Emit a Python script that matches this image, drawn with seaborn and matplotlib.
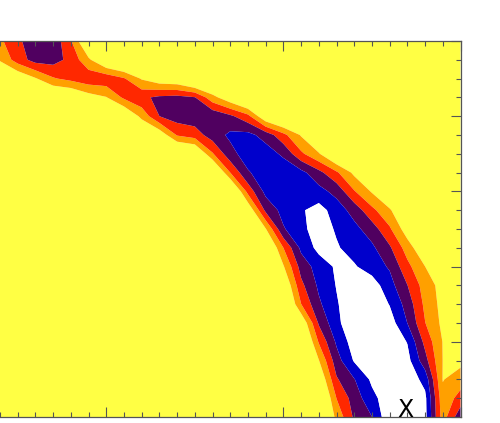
import numpy as np
import matplotlib
matplotlib.use("Agg")
import matplotlib.pyplot as plt
from matplotlib.ticker import MultipleLocator
import seaborn as sns

x_coords = [round(-0.6 + 0.1 * i, 2) for i in range(27)]      # -0.6 ... 2.0
y_coords = [round(0.25 * j, 2) for j in range(21)]             # 0.0 ... 5.0

N = -1.5  # far background level
z_y5_00 = [1.3, 2.3, 3.1, 3.2, 1.6, -1.0, N, N, N, N, N, N, N, N, N, N, N, N, N, N, N, N, N, N, N, N, N]
z_y4_75 = [0.6, 2.0, 2.9, 2.9, 2.2, 0.7, -0.8, N, N, N, N, N, N, N, N, N, N, N, N, N, N, N, N, N, N, N, N]
z_y4_50 = [-0.8, -0.5, 0.4, 1.4, 1.8, 2.2, 2.2, 1.6, 0.4, -0.3, -0.5, N, N, N, N, N, N, N, N, N, N, N, N, N, N, N, N]
z_y4_25 = [N, N, -1.0, -1.0, -0.8, 0.0, 0.45, 1.7, 2.3, 2.7, 2.8, 2.55, 0.85, -0.3, N, N, N, N, N, N, N, N, N, N, N, N, N]
z_y4_00 = [N, N, N, N, N, -1.0, -1.0, -0.8, 0.8, 2.5, 3.0, 3.1, 3.3, 2.7, 1.8, -0.5, N, N, N, N, N, N, N, N, N, N, N]
z_y3_75 = [N, N, N, N, N, N, N, N, -1.0, -0.3, 1.6, 2.0, 3.0, 3.7, 3.8, 3.1, 1.8, 0.4, -1.0, N, N, N, N, N, N, N, N]
z_y3_50 = [N, N, N, N, N, N, N, N, N, N, N, -1.0, 1.4, 3.16, 4.0, 4.0, 3.3, 1.7, 0.6, -1.0, N, N, N, N, N, N, N]
z_y3_25 = [N, N, N, N, N, N, N, N, N, N, N, N, N, 1.5, 3.4, 4.0, 4.2, 3.8, 2.8, 1.67, 0.25, N, N, N, N, N, N]
z_y3_00 = [N, N, N, N, N, N, N, N, N, N, N, N, N, N, 1.86, 3.8, 4.2, 4.3, 3.85, 3.17, 1.58, 0.39, -1.0, N, N, N, N]
z_y2_75 = [N, N, N, N, N, N, N, N, N, N, N, N, N, N, -0.45, 2.75, 3.85, 4.38, 4.9, 4.03, 3.1, 1.77, 0.66, -1.0, N, N, N]
z_y2_50 = [N, N, N, N, N, N, N, N, N, N, N, N, N, N, N, 0.43, 3.4, 4.23, 5.0, 4.39, 3.8, 2.99, 1.65, -0.1, N, N, N]
z_y2_25 = [N, N, N, N, N, N, N, N, N, N, N, N, N, N, N, -1.2, 1.5, 3.74, 4.8, 4.6, 4.12, 3.7, 2.65, 1.03, -0.5, N, N]
z_y2_00 = [N, N, N, N, N, N, N, N, N, N, N, N, N, N, N, N, 0.4, 2.9, 3.95, 4.65, 4.6, 4.03, 3.38, 1.79, 0.51, -1.0, N]
z_y1_75 = [N, N, N, N, N, N, N, N, N, N, N, N, N, N, N, N, -0.7, 2.24, 3.69, 4.55, 5.2, 5.0, 3.9, 2.52, 1.04, 0.1, -0.8]
z_y1_50 = [N, N, N, N, N, N, N, N, N, N, N, N, N, N, N, N, N, 1.48, 3.32, 4.4, 5.2, 5.3, 4.45, 3.09, 1.26, 0.16, -1.2]
z_y1_25 = [N, N, N, N, N, N, N, N, N, N, N, N, N, N, N, N, N, -0.5, 2.63, 4.23, 5.3, 5.5, 5.0, 3.49, 1.53, 0.25, -1.0]
z_y1_00 = [N, N, N, N, N, N, N, N, N, N, N, N, N, N, N, N, N, N, 1.6, 3.66, 5.0, 5.5, 5.3, 4.45, 2.2, 0.46, -0.5]
z_y0_75 = [N, N, N, N, N, N, N, N, N, N, N, N, N, N, N, N, N, N, 0.45, 3.06, 4.6, 5.4, 5.5, 4.85, 2.87, 0.48, 0.2]
z_y0_50 = [N, N, N, N, N, N, N, N, N, N, N, N, N, N, N, N, N, N, -0.6, 2.38, 3.45, 4.7, 5.4, 5.2, 4.14, 0.45, 1.0]
z_y0_25 = [N, N, N, N, N, N, N, N, N, N, N, N, N, N, N, N, N, N, N, 1.52, 2.95, 4.2, 5.1, 5.3, 4.75, 0.8, 1.9]
z_y0_00 = [N, N, N, N, N, N, N, N, N, N, N, N, N, N, N, N, N, N, N, 0.76, 2.68, 3.49, 5.3, 5.3, 4.8, 1.0, 3.2]

levels = [-10, 0.5, 1.5, 2.5, 3.5, 4.5, 10]
band_colors = ["#ffff44", "#ffa000", "#ff2800", "#500060", "#0000cc", "#ffffff"]

marker_label = "X"
marker_pos = (1.688, 0.0)

# ---- figure ----
sns.set_style("ticks")
plt.rcParams["font.family"] = ["DejaVu Sans"]

W, H = 500, 423
fig = plt.figure(figsize=(W / 100, H / 100), dpi=100)
left_px, right_px, top_px, bottom_px = -3, 460.5, 41, 417
ax = fig.add_axes([left_px / W, (H - bottom_px) / H,
                   (right_px - left_px) / W, (bottom_px - top_px) / H])
ax.set_axisbelow(False)

Z = np.array([z_y0_00, z_y0_25, z_y0_50, z_y0_75, z_y1_00, z_y1_25, z_y1_50,
              z_y1_75, z_y2_00, z_y2_25, z_y2_50, z_y2_75, z_y3_00, z_y3_25,
              z_y3_50, z_y3_75, z_y4_00, z_y4_25, z_y4_50, z_y4_75, z_y5_00])
X, Y = np.meshgrid(x_coords, y_coords)
ax.contourf(X, Y, Z, levels=levels, colors=band_colors, antialiased=True, zorder=0.5)

ax.text(marker_pos[0], marker_pos[1], marker_label, ha="center", va="baseline",
        fontsize=17, color="black", zorder=5)

px_per_unit = (right_px - 0) / 2.6
ax.set_xlim(-0.6 + left_px / px_per_unit, 2.0)
ax.set_ylim(0, 5)
ax.xaxis.set_major_locator(MultipleLocator(1.0))
ax.xaxis.set_minor_locator(MultipleLocator(0.1))
ax.yaxis.set_major_locator(MultipleLocator(1.0))
ax.yaxis.set_minor_locator(MultipleLocator(0.25))
ax.tick_params(which="both", direction="in", top=True, right=True, left=False, bottom=True,
               labelbottom=False, labelleft=False, color="#555555", width=0.8)
ax.tick_params(which="major", length=7)
ax.tick_params(which="minor", length=3.8)
for s in ax.spines.values():
    s.set_color("#555555")
    s.set_linewidth(0.9)
    s.set_zorder(4)
ax.spines["left"].set_visible(False)
ax.set_xlabel("")
ax.set_ylabel("")

fig.savefig("out.png", dpi=100)
